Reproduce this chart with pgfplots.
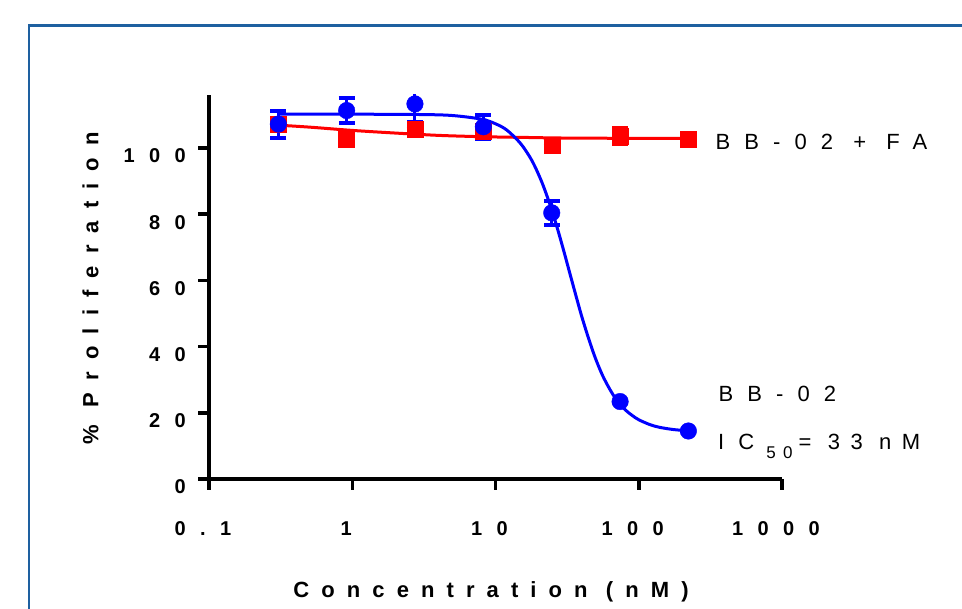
\documentclass[border=0pt]{standalone}
\usepackage{fontspec}
\setmainfont{Liberation Sans}
\usepackage{pgfplots}
\pgfplotsset{compat=1.18}

\definecolor{framecol}{RGB}{30,96,160}
\newcommand\tickfont{\fontsize{20}{24}\selectfont\bfseries\addfontfeature{LetterSpace=72}}
\newcommand\labfont{\fontsize{22}{26}\selectfont\bfseries\addfontfeature{LetterSpace=55}}
\newcommand\annfont{\fontsize{22}{26}\selectfont\addfontfeature{LetterSpace=64}}
\newcommand\subfont{\fontsize{17}{20}\selectfont\addfontfeature{LetterSpace=44}}

% BB-02 alone: mean and error
\pgfplotstableread{
x     y     e
0.305 107.2 4.1
0.914 111.3 3.8
2.74  113.3 5.4
8.23  106.4 3.6
24.7  80.4  3.6
74.1  23.4  0
222   14.5  0
}\bbtwo

% BB-02 + FA
\pgfplotstableread{
x     y     e
0.305 107.1 0
0.914 102.7 0
2.74  105.6 0
8.23  105.1 1.5
24.7  100.7 0
74.1  103.6 2.3
222   102.7 0
}\bbfa

% fitted curves
\pgfplotstableread{
x   y
0.3 110.2
1   110.2
3   110.1
5   109.8
8   108.7
10  107.3
12  105.4
15  101.3
18  96.1
21  89.8
24  82.9
27  75.8
30  68.8
33  62.2
36  56.2
40  49.1
45  42.0
50  36.3
56  31.2
63  27.0
70  23.9
80  21.0
90  19.2
100 17.9
120 16.4
140 15.6
170 15.0
200 14.7
222 14.6
}\fitbb

\pgfplotstableread{
x   y
0.3 106.9
0.5 106.3
1   105.3
2   104.5
4   103.8
8   103.4
15  103.2
30  103.0
100 102.9
222 102.9
}\fitfa

\begin{document}
\begin{tikzpicture}
\useasboundingbox (0,0) rectangle (962pt,609pt);
\draw[framecol, line width=2.5pt] (29pt,-10pt) -- (29pt,583.3pt) -- (975pt,583.3pt);

\begin{axis}[
    at={(209pt,130pt)}, anchor=south west,
    scale only axis, width=573pt, height=384pt,
    xmode=log, xmin=0.1, xmax=1000, ymin=0, ymax=116,
    axis x line*=bottom, axis y line*=left,
    axis line style={line width=3.5pt, -},
    xtick={0.1,1,10,100,1000}, xticklabels={0.1,1,10,100,1000},
    ytick={0,20,40,60,80,100}, yticklabels={0,20,40,60,80,100},
    xminorticks=false, yminorticks=false,
    tick align=outside, major tick length=11pt,
    every tick/.style={black, line width=3.5pt},
    tick label style={font=\tickfont, inner sep=0pt},
    xticklabel style={anchor=base, xshift=-6pt, yshift=-46pt},
    yticklabel style={anchor=east, xshift=-12pt, yshift=-8pt},
]
\addplot[red, line width=3pt, smooth] table {\fitfa};
\addplot[blue, line width=3pt, smooth] table {\fitbb};

\addplot[red, only marks, mark=square*, mark size=8pt,
    error bars/.cd, y dir=both, y explicit,
    error bar style={line width=3pt, red},
    error mark options={rotate=90, mark size=8pt, line width=4pt, red}]
  table[y error=e] {\bbfa};

\addplot[blue, only marks, mark=*, mark size=8.3pt,
    error bars/.cd, y dir=both, y explicit,
    error bar style={line width=3pt, blue},
    error mark options={rotate=90, mark size=8pt, line width=4pt, blue}]
  table[y error=e] {\bbtwo};
\end{axis}

\node[anchor=base, rotate=90, inner sep=0pt] at (98.3pt,320.5pt) {\labfont \% Proliferation};
\node[anchor=base, inner sep=0pt] at (491pt,11pt) {\labfont Concentration (nM)};

\node[anchor=base west, inner sep=0pt] at (715.5pt,459pt) {\annfont BB-02 + FA};
\node[anchor=base west, inner sep=0pt] at (718.5pt,207.3pt) {\annfont BB-02};
\node[anchor=base west, inner sep=0pt] at (718pt,159pt)
  {\annfont IC\hspace{12pt}\raisebox{-9pt}{\subfont 50}\hspace{6pt}{\addfontfeature{LetterSpace=47}= 33 nM}};
\end{tikzpicture}
\end{document}
